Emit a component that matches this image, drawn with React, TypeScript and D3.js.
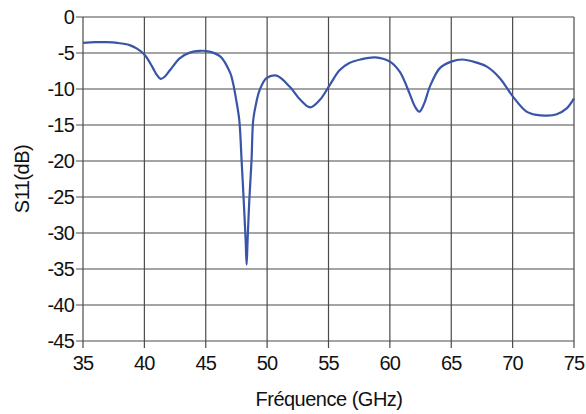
import React from "react";
import * as d3 from "d3";

const freq = [35, 36, 36.9, 37.8, 38.8, 39.4, 40.05, 40.7, 41.0, 41.33, 41.65, 42.08, 42.9, 43.7, 44.5, 45.3, 46.2, 47.0, 47.2, 47.46, 47.73, 47.92, 48.09, 48.25, 48.33, 48.41, 48.55, 48.73, 48.87, 49.14, 49.4, 49.95, 50.77, 51.85, 52.7, 53.5, 54.3, 55.1, 55.9, 56.7, 57.6, 58.8, 60.0, 60.8, 61.6, 62.0, 62.4, 62.8, 63.25, 64.07, 65.0, 65.9, 67.0, 67.9, 68.96, 70.04, 71.1, 71.95, 72.8, 73.6, 74.4, 75];
const s11 = [-3.6, -3.5, -3.5, -3.6, -3.9, -4.4, -5.3, -7.1, -8.0, -8.6, -8.3, -7.4, -5.7, -4.95, -4.7, -4.8, -5.5, -7.8, -9.0, -11.3, -14.3, -19.9, -25.4, -31.0, -34.4, -31.0, -25.4, -19.9, -14.3, -11.7, -10.1, -8.5, -8.15, -9.7, -11.5, -12.55, -11.5, -9.45, -7.4, -6.4, -5.9, -5.6, -6.2, -7.6, -10.6, -12.3, -13.15, -12.0, -9.7, -7.1, -6.2, -5.9, -6.3, -6.9, -8.5, -11.1, -13.1, -13.6, -13.7, -13.5, -12.7, -11.3];

const xTicks = [35, 40, 45, 50, 55, 60, 65, 70, 75];
const yTicks = [0, -5, -10, -15, -20, -25, -30, -35, -40, -45];
const xLabel = "Fréquence (GHz)";
const yLabel = "S11(dB)";

export default function App() {
  const W = 586, H = 414;
  const left = 83, right = 574, top = 17, bottom = 341;
  const x = d3.scaleLinear().domain([35, 75]).range([left, right]);
  const y = d3.scaleLinear().domain([0, -45]).range([top, bottom]);
  const pts: [number, number][] = freq.map((f, i) => [f, s11[i]]);
  const line = d3.line<[number, number]>().x(d => x(d[0])).y(d => y(d[1])).curve(d3.curveCatmullRom.alpha(0.5));
  const font = "'Liberation Sans', Arial, sans-serif";
  const grid = "#4a4a4a";
  return (
    <svg width={W} height={H} style={{ position: "absolute", left: 0, top: 0, background: "#fff" }}>
      {xTicks.map(t => (
        <line key={"gx" + t} x1={x(t)} x2={x(t)} y1={top} y2={bottom + 7} stroke={grid} strokeWidth={1.2} />
      ))}
      {yTicks.map(t => (
        <line key={"gy" + t} x1={left - 7} x2={right} y1={y(t)} y2={y(t)} stroke={grid} strokeWidth={1.2} />
      ))}
      <path d={line(pts) || ""} fill="none" stroke="#3a55a8" strokeWidth={2.2} strokeLinejoin="round" />
      {xTicks.map(t => (
        <text key={"tx" + t} x={x(t)} y={370} textAnchor="middle" fontFamily={font} fontSize={20} letterSpacing={-0.8} fill="#111">{t}</text>
      ))}
      {yTicks.map(t => (
        <text key={"ty" + t} x={74} y={y(t) + 7} textAnchor="end" fontFamily={font} fontSize={20} letterSpacing={-0.8} fill="#111">{t}</text>
      ))}
      <text x={329} y={406} textAnchor="middle" fontFamily={font} fontSize={20} letterSpacing={-0.5} fill="#111">{xLabel}</text>
      <text transform={`translate(29,${(top + bottom) / 2}) rotate(-90)`} textAnchor="middle" fontFamily={font} fontSize={20} letterSpacing={-0.5} fill="#111">{yLabel}</text>
    </svg>
  );
}
